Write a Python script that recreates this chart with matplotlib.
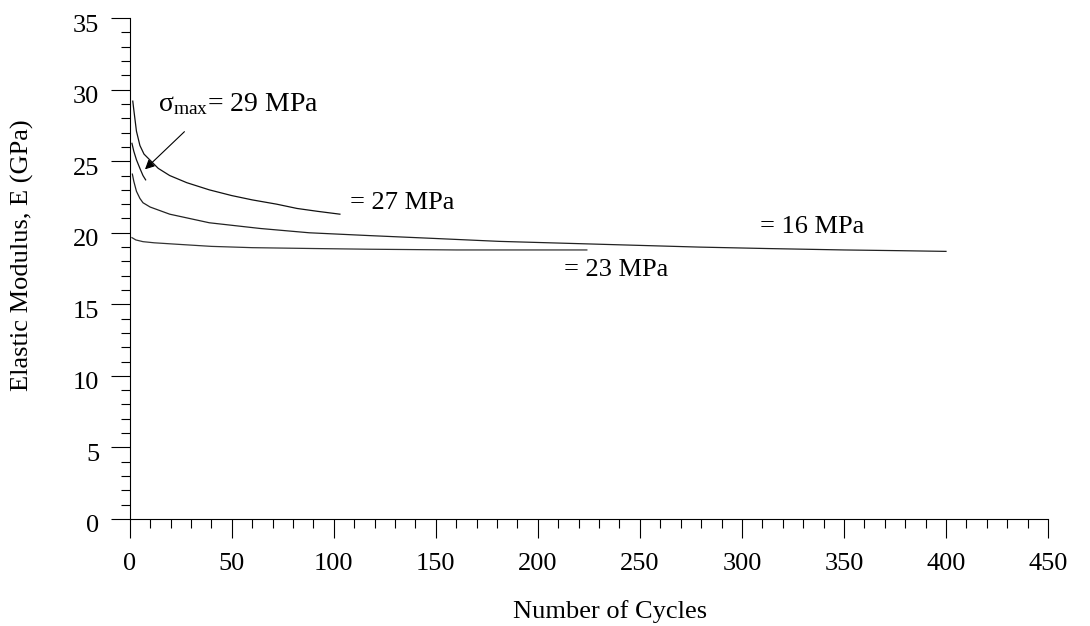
import matplotlib
matplotlib.use("Agg")
from matplotlib import pyplot as plt
from matplotlib.ticker import MultipleLocator
from matplotlib.transforms import ScaledTranslation

plt.rcParams['font.family'] = ['Liberation Serif', 'DejaVu Serif']
plt.rcParams['mathtext.fontset'] = 'custom'
plt.rcParams['mathtext.rm'] = 'Liberation Serif'
plt.rcParams['mathtext.it'] = 'Liberation Serif:italic'

# curves: cycles vs elastic modulus (GPa)
cycles_27 = [1.5, 2, 3.3, 5, 7, 9.8, 14, 19.6, 28, 39, 50, 60, 72, 82, 92, 103]
modulus_27 = [29.2, 28.6, 27.1, 26.1, 25.5, 25.1, 24.5, 24.0, 23.5, 23.0, 22.6, 22.3, 22.0, 21.7, 21.5, 21.3]

cycles_29 = [1.1, 2, 3.3, 5, 6.5, 7.8]
modulus_29 = [26.25, 25.7, 25.1, 24.5, 24.0, 23.7]

cycles_16 = [1.3, 2, 3.3, 5, 6.5, 10, 19.6, 39, 64, 88, 118, 150, 181, 230, 279, 312, 350, 377, 400]
modulus_16 = [24.1, 23.6, 22.9, 22.4, 22.1, 21.8, 21.3, 20.7, 20.3, 20.0, 19.8, 19.6, 19.4, 19.2, 19.0, 18.9, 18.8, 18.75, 18.7]

cycles_23 = [1.1, 3, 6.5, 12, 23, 40, 60, 90, 118, 160, 224]
modulus_23 = [19.66, 19.5, 19.38, 19.3, 19.2, 19.05, 18.96, 18.9, 18.85, 18.8, 18.8]

fs = 19

fig = plt.figure(figsize=(10.9, 6.26), dpi=100)
ax = fig.add_axes([0.119, 0.171, 0.8425, 0.80])

ax.plot(cycles_27, modulus_27, color='#111111', lw=0.9)
ax.plot(cycles_29, modulus_29, color='#111111', lw=0.9)
ax.plot(cycles_16, modulus_16, color='#222222', lw=0.9)
ax.plot(cycles_23, modulus_23, color='#333333', lw=0.9)

ax.set_xlim(0, 450)
ax.set_ylim(0, 35)
ax.xaxis.set_major_locator(MultipleLocator(50))
ax.xaxis.set_minor_locator(MultipleLocator(10))
ax.yaxis.set_major_locator(MultipleLocator(5))
ax.yaxis.set_minor_locator(MultipleLocator(1))
ax.tick_params(which='major', direction='out', length=13.5, width=0.8, labelsize=fs)
ax.tick_params(which='minor', direction='out', length=6.5, width=0.8)
ax.tick_params(axis='x', which='major', pad=11)
ax.tick_params(axis='y', which='major', pad=8.5)
ax.spines['top'].set_visible(False)
ax.spines['right'].set_visible(False)

# y tick labels sit a little below their ticks in the original
shift = ScaledTranslation(0, -0.05, fig.dpi_scale_trans)
for lab in ax.get_yticklabels():
    lab.set_transform(lab.get_transform() + shift)

ax.set_xlabel('Number of Cycles', fontsize=fs)
ax.xaxis.label.set_va('center')
ax.xaxis.set_label_coords(0.523, -0.1856)
ax.set_ylabel('Elastic Modulus, E (GPa)', fontsize=fs)
ax.yaxis.label.set_va('center')
ax.yaxis.set_label_coords(-0.1166, 0.527)

ax.text(13.8, 29.0, 'σ$_{\\mathrm{max}}$= 29 MPa', fontsize=20, va='center', ha='left')
ax.annotate('', xy=(6.5, 24.3), xytext=(27.8, 27.2),
            arrowprops=dict(arrowstyle='-|>', color='black', lw=0.8, mutation_scale=14))
ax.text(107.8, 22.1, '= 27 MPa', fontsize=fs, va='center', ha='left')
ax.text(308.8, 20.4, '= 16 MPa', fontsize=fs, va='center', ha='left')
ax.text(213, 17.4, '= 23 MPa', fontsize=fs, va='center', ha='left')

fig.savefig('out.png', dpi=100)
